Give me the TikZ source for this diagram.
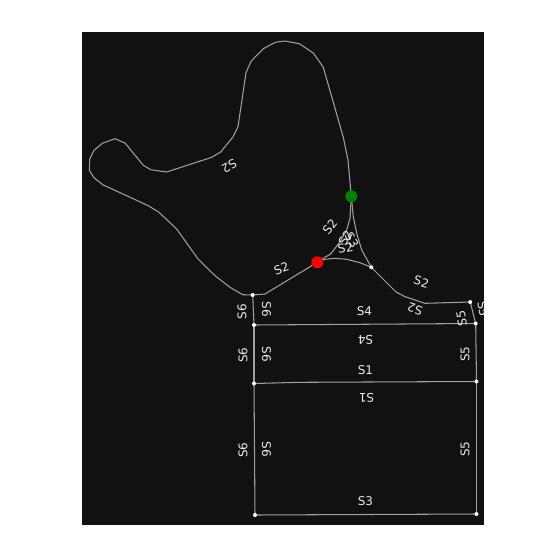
\documentclass[tikz,border=0pt]{standalone}
\usepackage{fontspec}
\setmainfont{DejaVu Sans}
\definecolor{panel}{HTML}{111111}
\definecolor{edgegray}{HTML}{A0A0A0}
\definecolor{dotgreen}{HTML}{008000}
\tikzset{
  edgeline/.style={draw=edgegray,line width=1.05pt,line join=round},
  vertexdot/.style={circle,fill=white,inner sep=0pt,minimum size=4pt},
  seedred/.style={circle,fill=red,inner sep=0pt,minimum size=12pt},
  seedgreen/.style={circle,fill=dotgreen,inner sep=0pt,minimum size=12pt},
  lab/.style={text=white!92!black,font=\fontsize{12}{13}\selectfont,inner sep=0pt}
}
\begin{document}
\begin{tikzpicture}[x=1pt,y=-1pt]
\useasboundingbox (0,0) rectangle (550,550);
\fill[panel] (82,32) rectangle (484,525);
\coordinate (R) at (317.3,262.3);
\coordinate (G) at (351.3,196.3);
\coordinate (a) at (371.3,267.3);
\coordinate (b) at (252.7,295);
\coordinate (c) at (254,325);
\coordinate (d) at (254,383.5);
\coordinate (e) at (255,515);
\coordinate (f) at (476.5,514);
\coordinate (g) at (476.5,381.5);
\coordinate (h) at (475.7,323.5);
\coordinate (i) at (470.2,302);
\draw[edgeline] (b) -- (265,294) -- (R);
\draw[edgeline] (b) -- (242.7,294.7) -- (230,287.3) -- (215,275.7) -- (198.3,259.3) -- (176.7,229) -- (159,212.3) -- (148.3,205.7) -- (102.7,184.7) -- (94,177.7) -- (89.3,170.3) -- (89.7,159.3) -- (93.7,150.7) -- (102.3,143.3) -- (115,138.7) -- (125,143) -- (143.3,165.3) -- (150.7,169.7) -- (166.7,172) -- (211.7,157.3) -- (220.7,152) -- (232.7,137.3) -- (238,126.7) -- (246,72.7) -- (251,61.3) -- (263.3,48.7) -- (275.3,42.3) -- (284.7,41) -- (299.3,43.7) -- (313.3,53) -- (323.3,67.3) -- (343.3,137.3) -- (348,160) -- (G);
\draw[edgeline] (R) -- (324.3,257.7) -- (330.7,254) -- (340,241.7) -- (346.7,230) -- (350,218.3) -- (G);
\draw[edgeline] (G) -- (353.3,216.7) -- (356.7,233.3) -- (361.7,250) -- (a);
\draw[edgeline] (R) -- (325,259.3) -- (335,258.3) -- (346.7,259.3) -- (360,262.7) -- (a);
\draw[edgeline] (a) -- (380,276) -- (396,292) -- (405,296.7) -- (425,303.3) -- (i);
\draw[edgeline] (i) -- (h);
\draw[edgeline] (b) -- (c);
\draw[edgeline] (c) -- (d);
\draw[edgeline] (d) -- (e);
\draw[edgeline] (e) -- (f);
\draw[edgeline] (f) -- (g);
\draw[edgeline] (g) -- (h);
\draw[edgeline] (c) -- (h);
\draw[edgeline] (d) -- (300,382.3) -- (g);
\node[seedred] (Rn) at (R) {};
\node[seedgreen] (Gn) at (G) {};
\foreach \n in {a,b,c,d,e,f,g,h,i} \node[vertexdot] (\n n) at (\n) {};
\begin{scope}
\clip (82,32) rectangle (484,525);
\node[lab,rotate=210] (t1) at (229.3,166.5) {S2};
\node[lab,rotate=20] (t2) at (281.5,268.5) {S2};
\node[lab,rotate=52] (t3) at (330,227) {S2};
\node[lab,rotate=60] (t4) at (345.5,238) {S2};
\node[lab,rotate=-60] (t5) at (352,240) {S3};
\node[lab,rotate=10] (t6) at (345.5,248) {S2};
\node[lab,rotate=-17] (t7) at (421.5,282) {S2};
\node[lab,rotate=163] (t8) at (415,309) {S2};
\node[lab,rotate=90] (t9) at (242,311.5) {S6};
\node[lab,rotate=-90] (t10) at (266.5,309) {S6};
\node[lab,rotate=90] (t11) at (243,355) {S6};
\node[lab,rotate=-90] (t12) at (266.5,354) {S6};
\node[lab,rotate=90] (t13) at (243,450) {S6};
\node[lab,rotate=-90] (t14) at (266.5,449.5) {S6};
\node[lab] (t15) at (364.5,311) {S4};
\node[lab,rotate=180] (t16) at (365.5,340) {S4};
\node[lab] (t17) at (365.5,370) {S1};
\node[lab,rotate=180] (t18) at (366.5,398) {S1};
\node[lab] (t19) at (365.5,501.5) {S3};
\node[lab,rotate=90] (t20) at (465,449) {S5};
\node[lab,rotate=90] (t21) at (465,354) {S5};
\node[lab,rotate=100] (t22) at (461.5,318.5) {S5};
\node[lab,rotate=-80] (t23) at (483,309) {S5};
\end{scope}
\end{tikzpicture}
\end{document}
